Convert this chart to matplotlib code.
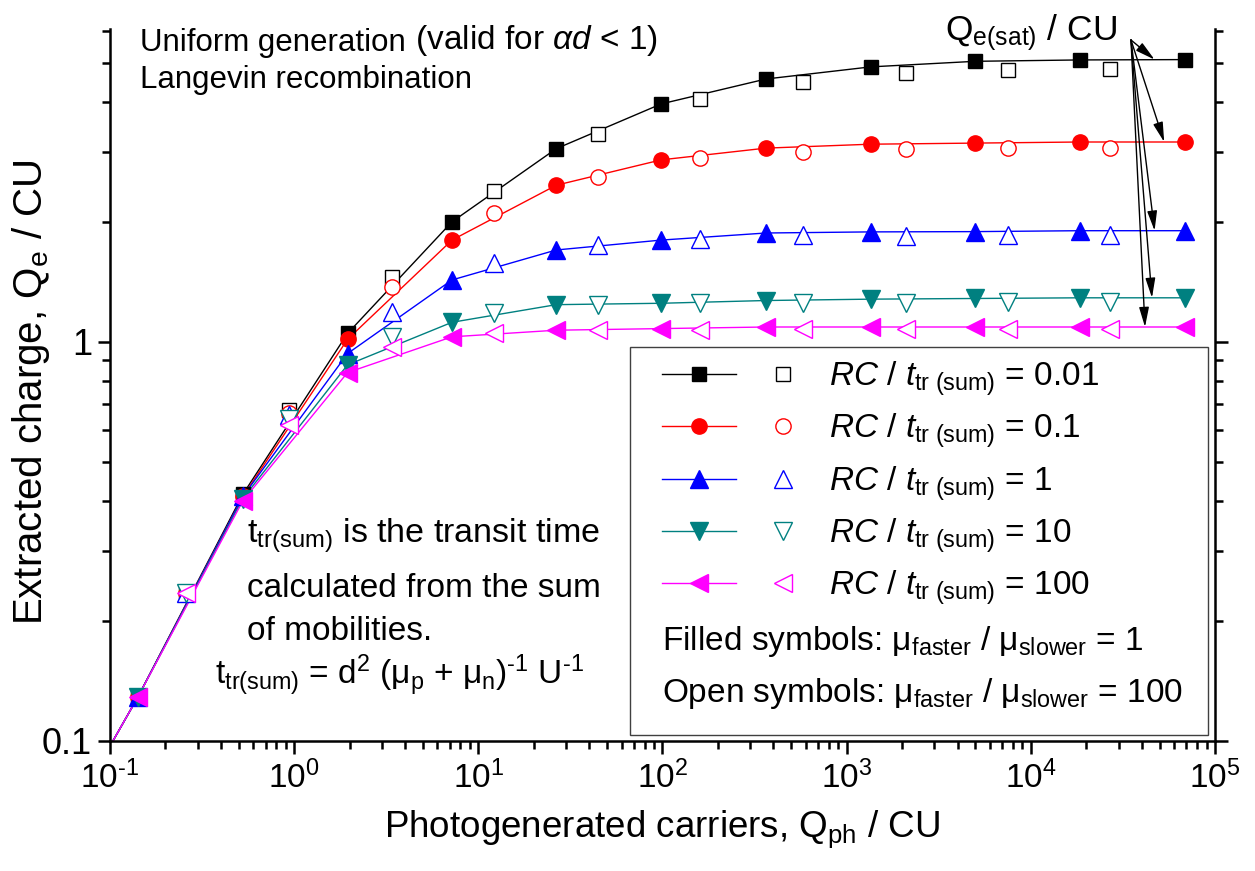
import matplotlib
matplotlib.use('Agg')
import matplotlib.pyplot as plt
from matplotlib.lines import Line2D
from matplotlib.patches import Rectangle
from matplotlib.legend_handler import HandlerTuple
from matplotlib.ticker import FixedLocator, FixedFormatter, NullFormatter

plt.rcParams['font.family'] = ['Liberation Sans', 'DejaVu Sans']
plt.rcParams['mathtext.fontset'] = 'custom'
plt.rcParams['mathtext.rm'] = 'Liberation Sans'
plt.rcParams['mathtext.it'] = 'Liberation Sans:italic'
plt.rcParams['mathtext.bf'] = 'Liberation Sans:bold'
plt.rcParams['axes.unicode_minus'] = False

HY = '\u2010'  # short hyphen, as in the original exponents

# photogenerated carriers Q_ph / CU
q_filled = [0.142, 0.527, 1.95, 7.2, 26.5, 98.6, 365, 1350, 5000, 18500, 68600]
q_open = [0.26, 0.94, 3.41, 12.2, 44.5, 160, 579, 2090, 7550, 27000]
q_line_start = 0.1
qe_line_start = 0.097

# extracted charge Q_e / CU, mobility ratio 1 (filled symbols)
qe_filled_001 = [0.129, 0.415, 1.05, 2.0, 3.05, 3.95, 4.56, 4.89, 5.05, 5.09, 5.10]
qe_filled_01 = [0.129, 0.41, 1.015, 1.80, 2.47, 2.86, 3.06, 3.13, 3.15, 3.17, 3.17]
qe_filled_1 = [0.129, 0.41, 0.935, 1.43, 1.70, 1.80, 1.875, 1.887, 1.89, 1.90, 1.90]
qe_filled_10 = [0.129, 0.405, 0.876, 1.12, 1.24, 1.25, 1.27, 1.28, 1.285, 1.29, 1.29]
qe_filled_100 = [0.129, 0.40, 0.838, 1.03, 1.07, 1.08, 1.09, 1.09, 1.09, 1.09, 1.09]

# extracted charge Q_e / CU, mobility ratio 100 (open symbols)
qe_open_001 = [0.235, 0.675, 1.455, 2.39, 3.32, 4.06, 4.48, 4.72, 4.80, 4.82]
qe_open_01 = [0.235, 0.665, 1.374, 2.10, 2.59, 2.89, 2.99, 3.04, 3.06, 3.06]
qe_open_1 = [0.235, 0.655, 1.19, 1.58, 1.75, 1.81, 1.85, 1.84, 1.85, 1.85]
qe_open_10 = [0.235, 0.64, 1.03, 1.18, 1.24, 1.25, 1.25, 1.25, 1.26, 1.26]
qe_open_100 = [0.235, 0.62, 0.97, 1.05, 1.07, 1.07, 1.08, 1.08, 1.08, 1.08]

rc_labels = ['0.01', '0.1', '1', '10', '100']
filled_sets = [qe_filled_001, qe_filled_01, qe_filled_1, qe_filled_10, qe_filled_100]
open_sets = [qe_open_001, qe_open_01, qe_open_1, qe_open_10, qe_open_100]

x_major = [0.1, 1, 10, 100, 1000, 10000, 100000]
x_major_labels = ['$10^{' + HY + '1}$', '$10^{0}$', '$10^{1}$', '$10^{2}$', '$10^{3}$', '$10^{4}$', '$10^{5}$']
y_major = [0.1, 1]
y_major_labels = ['0.1', '1']
y_minor = [0.2, 0.3, 0.4, 0.5, 0.6, 0.7, 0.8, 0.9, 2, 3, 4, 5, 6]

colors = ['black', '#ff0000', '#0000ff', '#008080', '#ff00ff']
markers = ['s', 'o', '^', 'v', '<']
msize = [10, 11, 12.5, 12.5, 12.5]
arrow_tip_q = [47000, 53000, 47000, 45500, 41700]

fig = plt.figure(figsize=(12.55, 8.71), dpi=100)
ax = fig.add_axes([0.0876, 0.1493, 0.8805, 0.8179])

handles = []
for c, m, ms, yf, yo in zip(colors, markers, msize, filled_sets, open_sets):
    ax.plot([q_line_start] + q_filled, [qe_line_start] + yf, '-', color=c, lw=1.0, zorder=2)
    ax.plot(q_filled, yf, ls='none', marker=m, ms=ms, color=c, mec=c, zorder=3)
    ax.plot(q_open, yo, ls='none', marker=m, ms=ms, mfc='white', mec=c, mew=1.0, zorder=3)
    h1 = Line2D([], [], color=c, lw=1.0, marker=m, ms=ms, mec=c)
    h2 = Line2D([], [], ls='none', marker=m, ms=ms, mfc='white', mec=c, mew=1.0)
    handles.append((h1, h2))

ax.set_xscale('log')
ax.set_yscale('log')
ax.set_xlim(0.1, 1e5)
ax.set_ylim(0.1, 6.1)

x_minor = [k * d for d in x_major[:-1] for k in range(2, 10)]
ax.xaxis.set_major_locator(FixedLocator(x_major))
ax.xaxis.set_major_formatter(FixedFormatter(x_major_labels))
ax.xaxis.set_minor_locator(FixedLocator(x_minor))
ax.xaxis.set_minor_formatter(NullFormatter())
ax.yaxis.set_major_locator(FixedLocator(y_major))
ax.yaxis.set_major_formatter(FixedFormatter(y_major_labels))
ax.yaxis.set_minor_locator(FixedLocator(y_minor))
ax.yaxis.set_minor_formatter(NullFormatter())

ax.spines['top'].set_visible(False)
for s in ['left', 'right', 'bottom']:
    ax.spines[s].set_linewidth(1.8)
ax.tick_params(which='both', direction='out', top=False, right=True, labelright=False, width=1.8)
ax.tick_params(which='major', length=9, pad=5)
ax.tick_params(which='minor', length=6)
ax.tick_params(axis='x', which='major', labelsize=24)
ax.tick_params(axis='y', which='major', labelsize=26, pad=4)

ax.set_xlabel('Photogenerated carriers, Q$_\\mathrm{ph}$ / CU', fontsize=26.5, labelpad=10)
ax.set_ylabel('Extracted charge, Q$_\\mathrm{e}$ / CU', fontsize=29)
ax.yaxis.set_label_coords(-0.052, 0.49)

t1 = ax.text(0.027, 0.9686, 'Uniform generation', transform=ax.transAxes, fontsize=22.5, va='baseline')
ax.annotate(' (valid for $\\alpha d$ < 1)', xy=(1, 0), xycoords=t1, fontsize=24, va='bottom')
ax.text(0.027, 0.9166, 'Langevin recombination', transform=ax.transAxes, fontsize=22.5, va='baseline')

ax.text(0.124, 0.2779, 't$_\\mathrm{tr(sum)}$ is the transit time', transform=ax.transAxes, fontsize=24.5, va='baseline')
ax.text(0.124, 0.2021, 'calculated from the sum', transform=ax.transAxes, fontsize=24, va='baseline')
ax.text(0.124, 0.1418, 'of mobilities.', transform=ax.transAxes, fontsize=24, va='baseline')
ax.text(0.095, 0.0786,
        't$_\\mathrm{tr(sum)}$ = d$^2$ (μ$_\\mathrm{p}$ + μ$_\\mathrm{n}$)$^{' + HY + '1}$ U$^{' + HY + '1}$',
        transform=ax.transAxes, fontsize=24, va='baseline')

ax.text(0.7557, 0.983, 'Q$_\\mathrm{e(sat)}$ / CU', transform=ax.transAxes, fontsize=25.5, va='baseline', clip_on=False)
for qx, yf in zip(arrow_tip_q, filled_sets):
    ax.annotate('', xy=(qx, yf[-1]), xycoords='data', xytext=(0.924, 0.984), textcoords='axes fraction',
                arrowprops=dict(arrowstyle='-|>,head_length=0.6,head_width=0.15', color='black',
                                lw=1.0, mutation_scale=20, shrinkA=0, shrinkB=0))

# legend box
ax.add_patch(Rectangle((0.4706, 0.0084), 0.5231, 0.5447, transform=ax.transAxes,
                       facecolor='white', edgecolor='0.25', lw=1.0, zorder=4))
labels = ['$\\mathit{RC}$ / $\\mathit{t}_\\mathrm{tr\\ (sum)}$ = ' + r for r in rc_labels]
leg = ax.legend(handles, labels, handler_map={tuple: HandlerTuple(ndivide=None, pad=0.3)},
                loc='upper left', bbox_to_anchor=(0.4995, 0.535), frameon=False, fontsize=24,
                handlelength=4.75, handletextpad=0.25, labelspacing=0.41, borderpad=0, borderaxespad=0)
leg.set_zorder(5)
ax.text(0.4995, 0.1277, 'Filled symbols: μ$_\\mathrm{faster}$ / μ$_\\mathrm{slower}$ = 1',
        transform=ax.transAxes, fontsize=24, va='baseline', zorder=6)
ax.text(0.4995, 0.0547, 'Open symbols: μ$_\\mathrm{faster}$ / μ$_\\mathrm{slower}$ = 100',
        transform=ax.transAxes, fontsize=24, va='baseline', zorder=6)

fig.savefig('out.png', dpi=100)
